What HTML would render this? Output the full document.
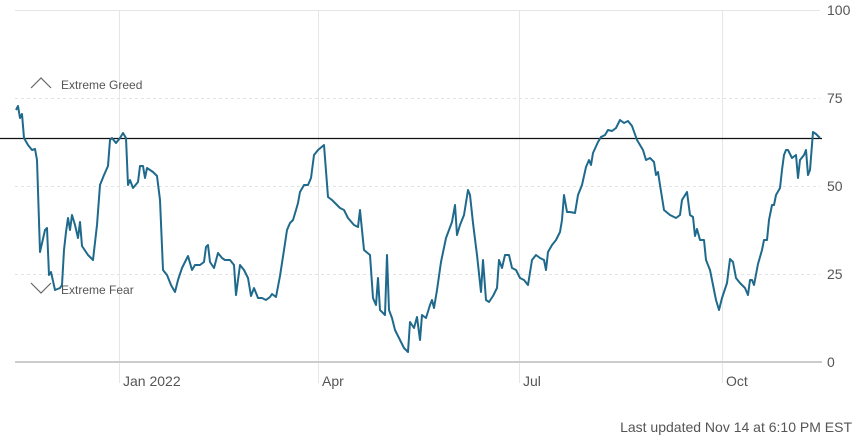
<!DOCTYPE html>
<html><head><meta charset="utf-8"><style>
html,body{margin:0;padding:0;background:#fff;width:866px;height:440px;overflow:hidden}
svg text{font-family:"Liberation Sans",sans-serif;fill:#555}
</style></head><body>
<svg width="866" height="440" viewBox="0 0 866 440">
<g stroke="#e6e6e6" stroke-width="1">
<line x1="15" y1="10.5" x2="820" y2="10.5"/>
<line x1="119.5" y1="10" x2="119.5" y2="383"/>
<line x1="318.5" y1="10" x2="318.5" y2="383"/>
<line x1="519.5" y1="10" x2="519.5" y2="383"/>
<line x1="722.5" y1="10" x2="722.5" y2="383"/>
</g>
<g stroke="#e3e3e3" stroke-width="1" stroke-dasharray="3,3">
<line x1="15" y1="98.5" x2="820" y2="98.5"/>
<line x1="15" y1="186.5" x2="820" y2="186.5"/>
<line x1="15" y1="274.5" x2="820" y2="274.5"/>
</g>
<line x1="15" y1="362" x2="822" y2="362" stroke="#ccc" stroke-width="2"/>
<line x1="0" y1="138.5" x2="822" y2="138.5" stroke="#111" stroke-width="1.2"/>
<polyline fill="none" stroke="#1f6a8c" stroke-width="2" stroke-linejoin="round" points="16,110 18,106 20,118 22,114 24,138 28,145 32,150 35,149 37,160 40,252 45,230 47,228 49,275 51,272 55,290 60,288 62,285 64,250 66,232 68,218 70,230 72,215 75,225 78,238 80,222 82,246 88,255 93,260 97,225 100,185 104,175 108,166 110,140 112,138 116,143 120,138 123,133 126,138 128,185 130,180 133,188 138,182 140,166 143,166 145,178 147,168 153,172 157,176 160,200 163,270 167,275 171,285 175,292 178,280 182,268 188,256 192,270 195,265 200,265 204,262 206,247 208,245 210,262 214,268 218,253 222,258 225,260 230,260 234,265 236,295 240,265 244,270 248,278 251,296 254,288 258,298 262,298 266,300 270,297 272,294 276,297 280,276 284,250 287,230 290,223 293,220 296,210 298,203 300,192 304,185 308,185 311,178 314,155 318,150 324,145 328,197 332,200 340,208 344,210 348,218 354,225 358,227 360,210 364,250 370,255 373,298 376,305 378,278 380,310 385,315 387,255 389,310 392,318 395,330 400,340 404,348 408,352 410,322 414,328 417,317 420,340 422,315 426,318 430,305 432,300 434,308 437,290 441,262 446,238 452,222 455,205 457,235 460,225 464,215 468,190 470,195 473,223 477,255 481,292 483,260 486,300 489,302 493,296 497,288 499,260 502,268 505,255 509,255 512,268 516,270 520,278 524,280 528,285 532,260 536,255 540,258 544,260 546,270 548,252 552,245 556,240 560,232 562,220 564,195 567,212 570,212 575,213 578,195 582,185 586,167 589,160 591,165 593,153 598,142 601,137 605,135 608,130 612,131 616,128 620,120 624,123 628,121 632,126 637,140 643,150 646,160 650,158 654,162 656,175 658,172 660,185 664,210 670,215 676,218 680,215 682,200 687,192 690,215 693,217 695,236 697,229 700,240 704,240 706,260 710,270 714,290 716,300 719,310 722,298 727,283 730,259 733,262 736,278 740,283 745,288 748,295 750,280 752,280 754,285 758,264 762,250 764,240 767,240 769,220 772,205 774,205 776,195 780,188 782,170 784,155 786,150 788,150 792,158 796,155 798,178 800,160 804,155 806,150 808,175 810,170 813,132 816,134 820,138"/>
<g fill="none" stroke="#666" stroke-width="1.2">
<polyline points="31,88 41,78 51,88"/>
<polyline points="31,283 41,293 51,283"/>
</g>
<text x="61" y="89" font-size="12">Extreme Greed</text>
<text x="61" y="294" font-size="12">Extreme Fear</text>
<g font-size="14">
<text x="827" y="15">100</text>
<text x="827" y="103">75</text>
<text x="827" y="191">50</text>
<text x="827" y="279">25</text>
<text x="827" y="367">0</text>
<text x="123" y="386">Jan 2022</text>
<text x="322" y="386">Apr</text>
<text x="523" y="386">Jul</text>
<text x="726" y="386">Oct</text>
<text x="852" y="432" text-anchor="end">Last updated Nov 14 at 6:10 PM EST</text>
</g>
</svg>
</body></html>
